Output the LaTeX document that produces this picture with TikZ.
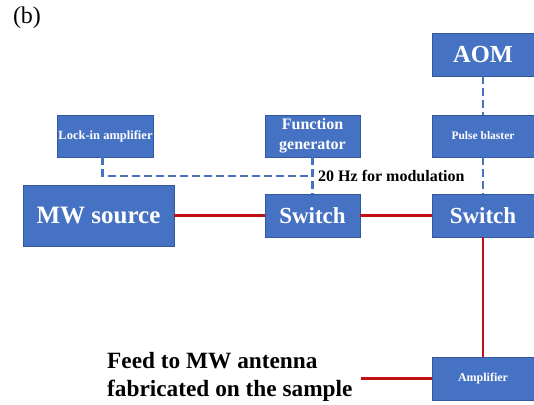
\documentclass[tikz,border=0pt]{standalone}
\usepackage{fontspec}
\setmainfont{Liberation Serif}
\usetikzlibrary{positioning,calc}
\definecolor{boxblue}{RGB}{70,114,196}
\definecolor{boxedge}{RGB}{52,88,156}
\definecolor{mwred}{RGB}{192,16,20}

\begin{document}
\begin{tikzpicture}[x=1pt, y=-1pt,
    box/.style={rectangle, draw=boxedge, fill=boxblue, text=white, font=\bfseries,
                align=center, inner sep=1pt, line width=0.6pt},
    rfline/.style={mwred, line width=2.6pt},
    ctrl/.style={boxblue, line width=2.4pt, dash pattern=on 8pt off 4pt}
]
    \useasboundingbox (0,0) rectangle (534,404);

    \node[font=\fontsize{24}{26}\selectfont] (tag) at (27,18) {(b)};

    \node[box, minimum width=102pt, minimum height=43pt, font=\bfseries\fontsize{24.5}{26}\selectfont] (aom)    at (483, 54.5) {AOM};
    \node[box, minimum width=95pt,  minimum height=42pt, font=\bfseries\fontsize{12.5}{14}\selectfont] (lockin) at (105.5,136) {Lock-in amplifier};
    \node[box, minimum width=95pt,  minimum height=42pt, font=\bfseries\fontsize{16}{20}\selectfont] (funcgen) at (312.5,136) {Function\\generator};
    \node[box, minimum width=102pt, minimum height=42pt, font=\bfseries\fontsize{11.5}{13}\selectfont] (pulse)  at (483,136) {Pulse blaster};
    \node[box, minimum width=151pt, minimum height=61pt, font=\bfseries\fontsize{25}{27}\selectfont] (mw)     at (98.5,215.5) {MW source};
    \node[box, minimum width=95pt,  minimum height=43pt, font=\bfseries\fontsize{23}{25}\selectfont] (sw1)    at (312.5,215.5) {Switch};
    \node[box, minimum width=102pt, minimum height=43pt, font=\bfseries\fontsize{23}{25}\selectfont] (sw2)    at (483,215.5) {Switch};
    \node[box, minimum width=102pt, minimum height=43pt, font=\bfseries\fontsize{12}{14}\selectfont] (amp)    at (483,378.5) {Amplifier};

    \node[anchor=west, font=\bfseries\fontsize{16}{18}\selectfont, inner sep=2pt] (mod) at (316,176) {20 Hz for modulation};
    \node[anchor=west, align=left, font=\bfseries\fontsize{23.3}{28}\selectfont, inner sep=2pt] (feed) at (105,376.5) {Feed to MW antenna\\fabricated on the sample};

    % microwave path
    \draw[rfline] (mw)  -- (sw1);
    \draw[rfline] (sw1) -- (sw2);
    \draw[rfline] (sw2) -- (amp);
    \draw[rfline] (amp.west) -- ([xshift=6pt]amp.west -| feed.east);

    % control lines
    \draw[ctrl] ([xshift=-3pt]lockin.south) |- (funcgen.south |- mod.west);
    \draw[ctrl] (funcgen) -- (sw1);
    \draw[ctrl] (aom)     -- (pulse);
    \draw[ctrl] (pulse)   -- (sw2);
\end{tikzpicture}
\end{document}
